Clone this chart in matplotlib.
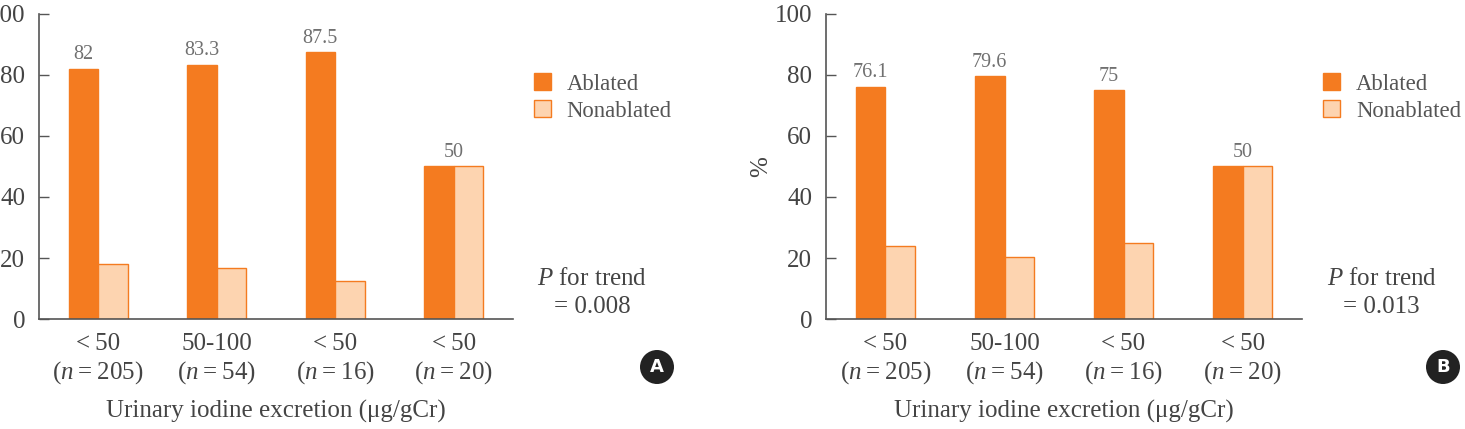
import numpy as np
import matplotlib
matplotlib.use("Agg")
import matplotlib.pyplot as plt
from matplotlib.patches import Circle

plt.rcParams['font.family'] = ['Liberation Serif', 'DejaVu Serif']
plt.rcParams['mathtext.fontset'] = 'custom'
plt.rcParams['mathtext.rm'] = 'Liberation Serif'
plt.rcParams['mathtext.it'] = 'Liberation Serif:italic'

# data
groups = ['<50', '50-100', '<50', '<50']
n_values = [205, 54, 16, 20]
ablated_a = [82, 83.3, 87.5, 50]
nonablated_a = [18, 16.7, 12.5, 50]
ablated_b = [76.1, 79.6, 75, 50]
nonablated_b = [23.9, 20.4, 25, 50]
p_trend = ['0.008', '0.013']
panel_tags = ['A', 'B']

ORANGE = '#F47B20'
PEACH = '#FDD4B0'
AXIS = '#555555'
TEXT = '#444444'
FS = 18
TH = '\u2009'  # thin space


def draw_panel(fig, rect, ablated, nonablated, p, tag, tag_xy, ylabel=None):
    ax = fig.add_axes(rect)
    x = np.arange(len(groups))
    w = 0.25
    ax.bar(x - w / 2, ablated, w, color=ORANGE, edgecolor=ORANGE,
           linewidth=1, label='Ablated')
    ax.bar(x + w / 2, nonablated, w, color=PEACH, edgecolor=ORANGE,
           linewidth=1, label='Nonablated')
    for i in range(len(groups)):
        xi = x[i] if ablated[i] == nonablated[i] else x[i] - w / 2
        ax.text(xi, ablated[i] + 1.5, '%g' % ablated[i], ha='center',
                va='bottom', fontsize=14.5, color='#707070')
    ax.set_xlim(-0.5, 3.5)
    ax.set_ylim(0, 100)
    ax.set_yticks(np.arange(0, 101, 20))
    ax.set_xticks(x)
    labels = []
    for g, n in zip(groups, n_values):
        top = g.replace('<', '<' + TH)
        labels.append('%s\n($n$%s=%s%d)' % (top, TH, TH, n))
    ax.set_xticklabels(labels, fontsize=FS, color=TEXT, linespacing=1.2)
    ax.tick_params(axis='y', direction='in', length=7, width=1, colors=AXIS,
                   labelsize=FS, labelcolor=TEXT, pad=10)
    ax.tick_params(axis='x', length=0, pad=10)
    for s in ['top', 'right']:
        ax.spines[s].set_visible(False)
    for s in ['left', 'bottom']:
        ax.spines[s].set_color(AXIS)
        ax.spines[s].set_linewidth(1.2)
    ax.set_xlabel('Urinary iodine excretion (μg/gCr)', fontsize=FS,
                  color=TEXT, labelpad=10)
    if ylabel:
        ax.set_ylabel(ylabel, fontsize=FS, color=TEXT, labelpad=2)
    ax.legend(loc='upper left', bbox_to_anchor=(1.044, 0.805), frameon=False,
              fontsize=16.4, labelcolor='#555555', handlelength=0.75,
              handleheight=0.75, handletextpad=0.7, labelspacing=0.25,
              borderpad=0, borderaxespad=0)
    ax.text(1.167, 0.085, '$P$ for trend\n= %s' % p, transform=ax.transAxes,
            ha='center', va='center', fontsize=FS, color=TEXT,
            linespacing=1.35)
    # circled panel tag, in figure inches so it stays round
    cx, cy = tag_xy
    fig.patches.append(Circle((cx, cy), 0.17, transform=fig.dpi_scale_trans,
                              facecolor='#222222', edgecolor='none'))
    fig.text(cx / 14.65, cy / 4.29, tag, ha='center', va='center',
             fontsize=13, fontweight='bold', color='white',
             family='DejaVu Sans')
    return ax


fig = plt.figure(figsize=(14.65, 4.29), dpi=100)
draw_panel(fig, [0.0266, 0.2564, 0.3235, 0.711], ablated_a, nonablated_a,
           p_trend[0], panel_tags[0], (6.57, 0.62))
draw_panel(fig, [0.5638, 0.2564, 0.325, 0.711], ablated_b, nonablated_b,
           p_trend[1], panel_tags[1], (14.43, 0.62), ylabel='%')
fig.savefig('out.png', dpi=100)
